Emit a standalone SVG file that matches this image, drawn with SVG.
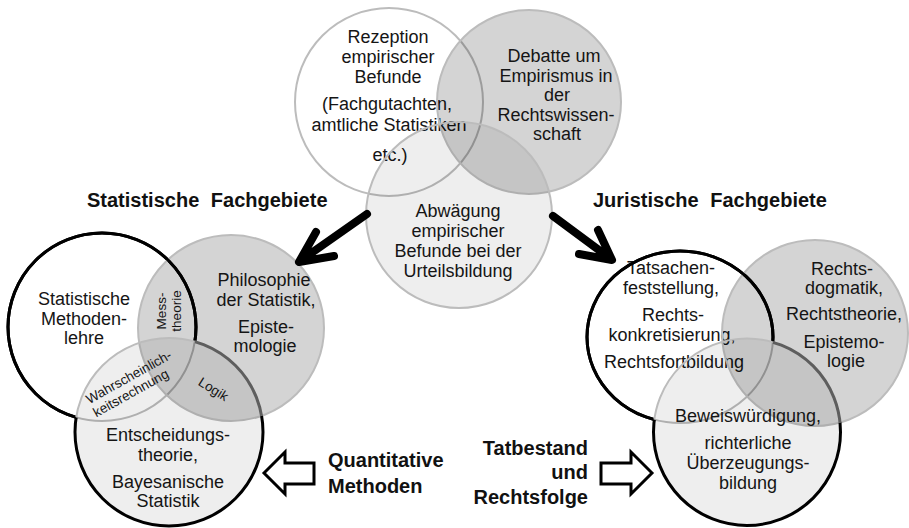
<svg xmlns="http://www.w3.org/2000/svg" width="909" height="528" viewBox="0 0 909 528">
<style>
.t{font-family:"Liberation Sans",Arial,sans-serif;font-size:18px;fill:#151515;text-anchor:middle}
.s{font-size:13.5px}
.h{font-family:"Liberation Sans",Arial,sans-serif;font-weight:bold;font-size:20px;fill:#111}
.w{fill:#fff}
.g{fill:#000;fill-opacity:.17}
.l{fill:#000;fill-opacity:.067}
.sg{fill:none;stroke:#bcbcbc;stroke-width:2}
.sb{fill:none;stroke:#000;stroke-width:3}
.sd{fill:none;stroke:#5e5e5e;stroke-width:3}
.arr{fill:none;stroke:#000;stroke-width:8;stroke-linecap:round;stroke-linejoin:round}
.blk{fill:#fff;stroke:#000;stroke-width:3;stroke-linejoin:miter}
</style>
<defs>
<clipPath id="inL1"><circle cx="102" cy="327" r="94"/></clipPath>
<clipPath id="outL1"><path clip-rule="evenodd" d="M0 0H909V528H0Z M8,327a94,94 0 1,0 188,0a94,94 0 1,0 -188,0Z"/></clipPath>
<clipPath id="inL2"><circle cx="231" cy="328" r="93"/></clipPath>
<clipPath id="outL2"><path clip-rule="evenodd" d="M0 0H909V528H0Z M138,328a93,93 0 1,0 186,0a93,93 0 1,0 -186,0Z"/></clipPath>
<clipPath id="inL3"><circle cx="169" cy="432" r="94"/></clipPath>
<clipPath id="outL3"><path clip-rule="evenodd" d="M0 0H909V528H0Z M75,432a94,94 0 1,0 188,0a94,94 0 1,0 -188,0Z"/></clipPath>
<clipPath id="inR1"><ellipse cx="680" cy="337" rx="93" ry="86"/></clipPath>
<clipPath id="outR1"><path clip-rule="evenodd" d="M0 0H909V528H0Z M587,337a93,86 0 1,0 186,0a93,86 0 1,0 -186,0Z"/></clipPath>
<clipPath id="inR2"><circle cx="815" cy="333" r="93"/></clipPath>
<clipPath id="outR2"><path clip-rule="evenodd" d="M0 0H909V528H0Z M722,333a93,93 0 1,0 186,0a93,93 0 1,0 -186,0Z"/></clipPath>
<clipPath id="inR3"><circle cx="747" cy="432" r="93.5"/></clipPath>
<clipPath id="outR3"><path clip-rule="evenodd" d="M0 0H909V528H0Z M653.5,432a93.5,93.5 0 1,0 187,0a93.5,93.5 0 1,0 -187,0Z"/></clipPath>
</defs>
<rect width="909" height="528" fill="#fff"/>

<!-- top venn -->
<g id="rezeption">
<circle class="w" cx="389" cy="102" r="94"/>
<circle class="sg" cx="389" cy="102" r="94"/>
<text class="t"><tspan x="388" y="43">Rezeption</tspan><tspan x="388" y="63">empirischer</tspan><tspan x="388" y="83">Befunde</tspan><tspan x="387" y="110">(Fachgutachten,</tspan><tspan x="389" y="131">amtliche Statistiken</tspan><tspan x="390" y="161">etc.)</tspan></text>
</g>
<g id="debatte">
<circle class="g" cx="529" cy="102" r="92"/>
<circle class="sg" cx="529" cy="102" r="92"/>
<text class="t"><tspan x="554" y="62">Debatte um</tspan><tspan x="556" y="82">Empirismus in</tspan><tspan x="557" y="101">der</tspan><tspan x="556" y="121">Rechtswissen-</tspan><tspan x="557" y="140">schaft</tspan></text>
</g>
<g id="abwaegung">
<circle class="l" cx="459" cy="215" r="93"/>
<circle class="sg" cx="459" cy="215" r="93"/>
<text class="t"><tspan x="458" y="217">Abwägung</tspan><tspan x="458" y="237">empirischer</tspan><tspan x="458" y="257">Befunde bei der</tspan><tspan x="458" y="277">Urteilsbildung</tspan></text>
</g>

<!-- left venn -->
<g id="methodenlehre">
<circle class="w" cx="102" cy="327" r="94"/>
<circle class="sb" cx="102" cy="327" r="94" clip-path="url(#outL3)"/>
<circle class="sg" cx="102" cy="327" r="94" clip-path="url(#inL3)"/>
<text class="t"><tspan x="84" y="305">Statistische</tspan><tspan x="84" y="325">Methoden-</tspan><tspan x="84" y="344">lehre</tspan></text>
</g>
<g id="philosophie">
<circle class="g" cx="231" cy="328" r="93"/>
<circle class="sg" cx="231" cy="328" r="93"/>
<circle class="sb" cx="102" cy="327" r="94" clip-path="url(#outL3)"/>
<text class="t"><tspan x="264" y="286">Philosophie</tspan><tspan x="266" y="306">der Statistik,</tspan><tspan x="266" y="333">Episte-</tspan><tspan x="265" y="352">mologie</tspan></text>
</g>
<g id="entscheidung">
<circle class="l" cx="169" cy="432" r="94"/>
<g clip-path="url(#outL1)"><circle class="sb" cx="169" cy="432" r="94" clip-path="url(#outL2)"/></g>
<g clip-path="url(#inL2)"><circle class="sd" cx="169" cy="432" r="94" clip-path="url(#outL1)"/></g>
<circle class="sg" cx="169" cy="432" r="94" clip-path="url(#inL1)"/>
<text class="t"><tspan x="168" y="441">Entscheidungs-</tspan><tspan x="168" y="461">theorie,</tspan><tspan x="168" y="488">Bayesanische</tspan><tspan x="168" y="507">Statistik</tspan></text>
</g>
<g id="left-overlap-labels">
<text class="t s" transform="translate(166,311) rotate(-90)"><tspan x="0" y="0">Mess-</tspan><tspan x="0" y="15">theorie</tspan></text>
<text class="t s" transform="translate(131,381) rotate(-29)">Wahrscheinlich-</text>
<text class="t s" transform="translate(133,397) rotate(-29)">keitsrechnung</text>
<text class="t s" transform="translate(211,393) rotate(32)">Logik</text>
</g>

<!-- right venn -->
<g id="tatsachen">
<ellipse class="w" cx="680" cy="337" rx="93" ry="86"/>
<ellipse class="sb" cx="680" cy="337" rx="93" ry="86" clip-path="url(#outR3)"/>
<ellipse class="sg" cx="680" cy="337" rx="93" ry="86" clip-path="url(#inR3)"/>
<text class="t"><tspan x="671" y="274">Tatsachen-</tspan><tspan x="671" y="294">feststellung,</tspan><tspan x="673" y="321">Rechts-</tspan><tspan x="672" y="341">konkretisierung,</tspan><tspan x="674" y="368">Rechtsfortbildung</tspan></text>
</g>
<g id="rechtsdogmatik">
<circle class="g" cx="815" cy="333" r="93"/>
<circle class="sg" cx="815" cy="333" r="93"/>
<ellipse class="sb" cx="680" cy="337" rx="93" ry="86" clip-path="url(#outR3)"/>
<text class="t"><tspan x="842" y="275">Rechts-</tspan><tspan x="844" y="294">dogmatik,</tspan><tspan x="844" y="320">Rechtstheorie,</tspan><tspan x="844" y="348">Epistemo-</tspan><tspan x="846" y="367">logie</tspan></text>
</g>
<g id="beweiswuerdigung">
<circle class="l" cx="747" cy="432" r="93.5"/>
<g clip-path="url(#outR1)"><circle class="sb" cx="747" cy="432" r="93.5" clip-path="url(#outR2)"/></g>
<g clip-path="url(#inR2)"><circle class="sd" cx="747" cy="432" r="93.5" clip-path="url(#outR1)"/></g>
<circle class="sg" cx="747" cy="432" r="93.5" clip-path="url(#inR1)"/>
<text class="t"><tspan x="748" y="422">Beweiswürdigung,</tspan><tspan x="748" y="449">richterliche</tspan><tspan x="748" y="469">Überzeugungs-</tspan><tspan x="748" y="489">bildung</tspan></text>
</g>

<!-- headings -->
<g id="heading-statistik"><text class="h" x="87" y="207" word-spacing="6">Statistische Fachgebiete</text></g>
<g id="heading-jura"><text class="h" x="593" y="207" word-spacing="6">Juristische Fachgebiete</text></g>
<g id="label-quantitativ"><text class="h"><tspan x="328" y="467">Quantitative</tspan><tspan x="328" y="493">Methoden</tspan></text></g>
<g id="label-tatbestand"><text class="h" text-anchor="end"><tspan x="588" y="455">Tatbestand</tspan><tspan x="588" y="479">und</tspan><tspan x="588" y="504">Rechtsfolge</tspan></text></g>

<!-- connectors -->
<g id="connectors">
<path class="arr" d="M367,214 L300,261 M316,232 L299,262 L334,256"/>
<path class="arr" d="M553,216 L611,259 M598,230 L612,260 L579,254"/>
<polygon class="blk" points="264,473 285,452 285,463 314,463 314,484 285,484 285,494"/>
<polygon class="blk" points="652,473 631,452 631,463 601,463 601,484 631,484 631,494"/>
</g>
</svg>
